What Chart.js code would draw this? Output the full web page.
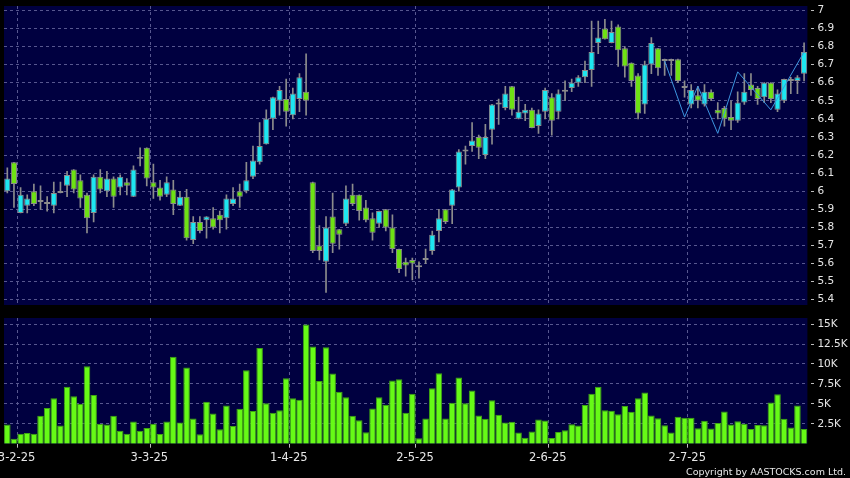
<!DOCTYPE html>
<html>
<head>
<meta charset="utf-8">
<script src="https://cdn.jsdelivr.net/npm/chart.js@4.4.1/dist/chart.umd.min.js"></script>
<style>
  html, body { margin: 0; padding: 0; background: #000; }
  #wrap { position: relative; width: 850px; height: 478px; background: #000; overflow: hidden; }
  #priceChart { position: absolute; left: 0; top: 0; }
  #volChart { position: absolute; left: 0; top: 310px; }
  #copy { position: absolute; right: 4px; top: 466px; color: #e8e8e8; font: 9.5px 'DejaVu Sans', sans-serif; white-space: nowrap; }
</style>
</head>
<body>
<div id="wrap">
  <canvas id="priceChart" width="850" height="310"></canvas>
  <canvas id="volChart" width="850" height="168"></canvas>
  <div id="copy">Copyright by AASTOCKS.com Ltd.</div>
</div>
<script>
// trading days shown on the chart
var dates = [
  '27-1-25','28-1-25',
  '3-2-25','4-2-25','5-2-25','6-2-25','7-2-25','10-2-25','11-2-25','12-2-25','13-2-25','14-2-25',
  '17-2-25','18-2-25','19-2-25','20-2-25','21-2-25','24-2-25','25-2-25','26-2-25','27-2-25','28-2-25',
  '3-3-25','4-3-25','5-3-25','6-3-25','7-3-25','10-3-25','11-3-25','12-3-25','13-3-25','14-3-25',
  '17-3-25','18-3-25','19-3-25','20-3-25','21-3-25','24-3-25','25-3-25','26-3-25','27-3-25','28-3-25','31-3-25',
  '1-4-25','2-4-25','3-4-25','7-4-25','8-4-25','9-4-25','10-4-25','11-4-25','14-4-25','15-4-25',
  '16-4-25','17-4-25','22-4-25','23-4-25','24-4-25','25-4-25','28-4-25','29-4-25','30-4-25',
  '2-5-25','6-5-25','7-5-25','8-5-25','9-5-25','12-5-25','13-5-25','14-5-25','15-5-25','16-5-25',
  '19-5-25','20-5-25','21-5-25','22-5-25','23-5-25','26-5-25','27-5-25','28-5-25','29-5-25','30-5-25',
  '2-6-25','3-6-25','4-6-25','5-6-25','6-6-25','9-6-25','10-6-25','11-6-25','12-6-25','13-6-25',
  '16-6-25','17-6-25','18-6-25','19-6-25','20-6-25','23-6-25','24-6-25','25-6-25','26-6-25','27-6-25','30-6-25',
  '2-7-25','3-7-25','4-7-25','7-7-25','8-7-25','9-7-25','10-7-25','11-7-25',
  '14-7-25','15-7-25','16-7-25','17-7-25','18-7-25','21-7-25','22-7-25','23-7-25','24-7-25','25-7-25'
];
var tickDates = ['3-2-25', '3-3-25', '1-4-25', '2-5-25', '2-6-25', '2-7-25'];

var opens = [
  6.00,6.16,5.88,5.92,6.00,5.94,5.93,5.92,5.99,6.03,6.12,6.06,5.98,5.88,6.08,6.00,6.07,6.02,6.05,5.97,
  6.18,6.24,6.05,6.02,5.98,6.01,5.92,5.97,5.73,5.83,5.84,5.85,5.87,5.85,5.93,6.00,6.00,6.08,6.16,6.26,
  6.40,6.50,6.51,6.42,6.51,6.55,6.05,5.70,5.61,5.86,5.79,5.82,5.98,5.98,5.91,5.85,5.82,5.90,5.80,5.68,
  5.61,5.62,5.59,5.62,5.67,5.78,5.90,5.92,6.02,6.23,6.25,6.30,6.20,6.34,6.48,6.46,6.58,6.40,6.43,6.45,
  6.36,6.44,6.52,6.44,6.55,6.57,6.60,6.63,6.67,6.82,6.90,6.82,6.91,6.79,6.71,6.64,6.48,6.70,6.79,6.72,
  6.72,6.73,6.57,6.48,6.53,6.48,6.55,6.45,6.46,6.41,6.39,6.49,6.59,6.57,6.52,6.60,6.45,6.50,6.61,6.61,
  6.65
];
var highs = [
  6.13,6.16,6.02,5.98,6.04,6.03,5.97,6.05,6.05,6.11,6.12,6.09,5.99,6.09,6.12,6.11,6.08,6.09,6.07,6.14,
  6.24,6.24,6.15,6.06,6.08,6.06,6.00,6.01,5.86,5.86,5.86,5.91,5.89,5.98,6.02,6.04,6.16,6.25,6.38,6.45,
  6.52,6.58,6.62,6.57,6.65,6.76,6.05,5.81,5.86,5.99,5.79,6.03,6.04,5.98,5.95,5.88,5.89,5.90,5.87,5.68,
  5.63,5.63,5.61,5.68,5.78,5.90,5.90,6.01,6.23,6.25,6.38,6.31,6.37,6.48,6.51,6.58,6.58,6.52,6.48,6.46,
  6.45,6.57,6.54,6.56,6.61,6.62,6.64,6.72,6.94,6.94,6.95,6.94,6.92,6.80,6.71,6.65,6.72,6.85,6.79,6.73,
  6.73,6.73,6.61,6.59,6.58,6.59,6.56,6.49,6.47,6.50,6.55,6.65,6.65,6.58,6.60,6.60,6.56,6.62,6.63,6.64,
  6.82
];
var lows = [
  5.99,5.91,5.88,5.88,5.92,5.90,5.89,5.88,5.99,5.97,5.99,5.91,5.77,5.83,5.99,5.97,5.91,5.98,5.98,5.97,
  6.14,6.03,5.96,5.95,5.97,5.87,5.92,5.73,5.71,5.77,5.74,5.79,5.77,5.79,5.92,5.91,5.99,6.07,6.15,6.26,
  6.34,6.42,6.36,6.40,6.44,6.42,5.66,5.62,5.44,5.66,5.68,5.81,5.92,5.84,5.83,5.73,5.80,5.78,5.66,5.55,
  5.53,5.51,5.52,5.60,5.65,5.72,5.82,5.82,6.00,6.15,6.22,6.18,6.18,6.26,6.37,6.45,6.42,6.40,6.39,6.35,
  6.32,6.40,6.31,6.40,6.50,6.55,6.58,6.60,6.58,6.76,6.84,6.82,6.69,6.63,6.58,6.40,6.43,6.65,6.64,6.64,
  6.64,6.60,6.52,6.46,6.46,6.47,6.50,6.40,6.36,6.34,6.38,6.48,6.53,6.48,6.49,6.49,6.44,6.49,6.54,6.54,
  6.61
];
var closes = [
  6.07,6.04,5.98,5.96,5.93,5.95,5.93,5.99,5.99,6.09,6.01,5.96,5.85,6.08,6.01,6.07,5.97,6.08,6.03,6.12,
  6.19,6.07,6.02,5.97,6.05,5.93,5.97,5.74,5.83,5.78,5.86,5.80,5.84,5.96,5.96,5.97,6.06,6.17,6.25,6.40,
  6.52,6.56,6.44,6.54,6.63,6.50,5.67,5.67,5.80,5.71,5.76,5.96,5.93,5.89,5.84,5.77,5.89,5.80,5.68,5.57,
  5.59,5.60,5.58,5.63,5.76,5.85,5.83,6.01,6.22,6.22,6.28,6.24,6.30,6.48,6.49,6.54,6.45,6.44,6.45,6.35,
  6.43,6.56,6.39,6.54,6.56,6.60,6.63,6.67,6.77,6.85,6.84,6.88,6.78,6.69,6.61,6.43,6.70,6.82,6.68,6.72,
  6.72,6.61,6.57,6.56,6.50,6.55,6.51,6.43,6.40,6.39,6.49,6.55,6.56,6.51,6.60,6.51,6.54,6.62,6.61,6.63,
  6.77
];
// volume in thousands of shares
var volumes = [
  2.40,0.63,1.26,1.35,1.26,3.50,4.47,5.69,2.28,7.16,5.94,5.01,9.73,6.11,2.49,2.40,3.50,1.64,1.26,2.78,
  1.64,1.98,2.49,1.22,2.78,10.91,2.65,9.57,3.16,1.18,5.27,3.79,1.81,4.80,2.23,4.38,9.23,4.09,12.01,5.06,
  3.88,4.21,8.22,5.69,5.52,14.96,12.18,7.88,12.09,8.81,6.53,5.82,3.50,2.95,1.43,4.42,5.82,4.89,7.92,8.09,
  3.88,6.28,0.67,3.16,6.95,8.85,3.16,5.14,8.30,5.06,6.66,3.54,3.12,5.44,3.62,2.65,2.74,1.39,0.76,1.52,
  3.03,2.91,0.72,1.47,1.69,2.44,2.28,4.85,6.28,7.16,4.21,4.13,3.71,4.72,4.00,5.69,6.41,3.54,3.20,2.32,
  1.39,3.37,3.24,3.24,1.94,2.87,1.90,2.61,4.05,2.40,2.82,2.49,1.85,2.36,2.32,5.18,6.19,3.12,2.02,4.80,
  1.85
];
// thin overlay line on the last weeks
var zigzagDates = ['25-6-25', '30-6-25', '3-7-25', '8-7-25', '11-7-25', '18-7-25', '25-7-25'];
var zigzagVals = [6.72, 6.41, 6.58, 6.32, 6.66, 6.45, 6.77];

var NAVY = '#000040';
var GRID = '#57578f';
var UP = '#1ee6f0';
var DOWN = '#6ee114';
var EDGE = '#8c8c8c';

Chart.defaults.font.family = "'DejaVu Sans', sans-serif";
Chart.defaults.font.size = 10.5;
Chart.defaults.color = '#e6e6e6';

var plotBg = {
    id: 'plotBg',
    beforeDraw: function(chart) {
        var a = chart.chartArea, c = chart.ctx;
        c.save();
        c.fillStyle = NAVY;
        c.fillRect(a.left, a.top, a.right - a.left, a.bottom - a.top);
        c.restore();
    }
};

function monthGrid(ctx) {
    return tickDates.indexOf(dates[ctx.index]) >= 0 ? GRID : 'transparent';
}

function fixYWidth(scale) {
    scale.width = 42.6;
    scale.paddingTop = 0;
    scale.paddingBottom = 0;
}

var yTicksStyle = {
    drawTicks: true,
    tickLength: 7,
    tickColor: '#bdbdbd',
    tickBorderDash: [0, 4, 3, 10],
    color: GRID
};

new Chart(document.getElementById('priceChart').getContext('2d'), {
    type: 'bar',
    data: {
        labels: dates,
        datasets: [{
            label: 'range',
            data: lows.map(function(l, i) { return [l, highs[i]]; }),
            backgroundColor: EDGE,
            barThickness: 1,
            grouped: false,
            order: 3
        }, {
            label: 'body',
            data: opens.map(function(o, i) { return [o, closes[i]]; }),
            backgroundColor: opens.map(function(o, i) { return closes[i] >= o ? UP : DOWN; }),
            borderColor: EDGE,
            borderWidth: 1,
            borderSkipped: false,
            barPercentage: 0.93,
            categoryPercentage: 1,
            minBarLength: 2,
            grouped: false,
            order: 2
        }, {
            type: 'line',
            label: 'line',
            data: zigzagDates.map(function(d, i) { return {x: d, y: zigzagVals[i]}; }),
            borderColor: '#3d96e0',
            borderWidth: 1,
            pointRadius: 0,
            tension: 0,
            order: 1
        }]
    },
    options: {
        responsive: false,
        animation: false,
        devicePixelRatio: 1,
        layout: { padding: { left: 4, top: 6, right: 0, bottom: 5 } },
        plugins: { legend: { display: false }, tooltip: { enabled: false } },
        scales: {
            x: {
                offset: true,
                ticks: { display: false, autoSkip: false, maxRotation: 0, minRotation: 0 },
                grid: { offset: true, drawTicks: false, color: monthGrid },
                border: { display: false, dash: [3, 3] },
                afterFit: function(s) { s.height = 0; s.paddingLeft = 0; s.paddingRight = 0; }
            },
            y: {
                position: 'right',
                min: 5.371,
                max: 7.024,
                ticks: {
                    stepSize: 0.1,
                    includeBounds: false,
                    padding: 3,
                    callback: function(v) { return String(+v.toFixed(1)); }
                },
                grid: yTicksStyle,
                border: { display: false, dash: [3, 3] },
                afterFit: fixYWidth
            }
        }
    },
    plugins: [plotBg]
});

new Chart(document.getElementById('volChart').getContext('2d'), {
    type: 'bar',
    data: {
        labels: dates,
        datasets: [{
            label: 'Volume',
            data: volumes,
            backgroundColor: '#66fa16',
            borderColor: '#3fa512',
            borderWidth: 1,
            barPercentage: 0.99,
            categoryPercentage: 1
        }]
    },
    options: {
        responsive: false,
        animation: false,
        devicePixelRatio: 1,
        layout: { padding: { left: 4, top: 8, right: 0, bottom: 0 } },
        plugins: { legend: { display: false }, tooltip: { enabled: false } },
        scales: {
            x: {
                offset: true,
                ticks: {
                    autoSkip: false,
                    maxRotation: 0,
                    minRotation: 0,
                    padding: 3,
                    labelOffset: -4,
                    font: { size: 11.5 },
                    callback: function(v, i) { return tickDates.indexOf(dates[i]) >= 0 ? dates[i] : ''; }
                },
                grid: { offset: true, drawTicks: true, tickLength: 4, color: monthGrid, tickColor: function(c) { return monthGrid(c) === GRID ? '#bdbdbd' : 'transparent'; } },
                border: { display: false, dash: [3, 3] },
                afterFit: function(s) { s.height = 34.3; s.paddingLeft = 0; s.paddingRight = 0; }
            },
            y: {
                position: 'right',
                min: 0,
                max: 15.77,
                ticks: {
                    stepSize: 2.5,
                    includeBounds: false,
                    padding: 3,
                    callback: function(v) { return v + 'K'; }
                },
                afterBuildTicks: function(s) {
                    s.ticks = s.ticks.filter(function(t) { return t.value > 0; });
                },
                grid: yTicksStyle,
                border: { display: false, dash: [3, 3] },
                afterFit: fixYWidth
            }
        }
    },
    plugins: [plotBg]
});
</script>
</body>
</html>
